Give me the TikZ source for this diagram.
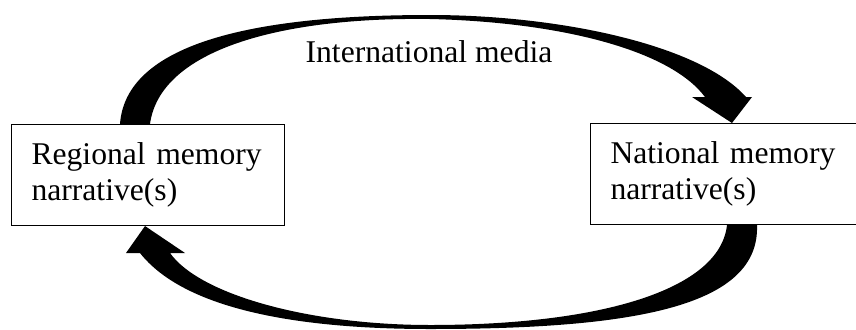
\documentclass[tikz,border=0pt]{standalone}
\usepackage{fontspec}
\setmainfont{Liberation Serif}
\usetikzlibrary{calc}
\tikzset{
  memorybox/.style={draw, line width=0.6pt, rectangle, anchor=north west,
    minimum width=5.46cm, minimum height=2.02cm, text width=4.66cm,
    inner xsep=0.4cm, align=left, font=\fontsize{18}{20.7}\selectfont},
  medialabel/.style={font=\fontsize{18}{20.7}\selectfont},
  bigarrow/.style={fill=black, draw=none}
}
\begin{document}
\begin{tikzpicture}[x=0.02cm,y=-0.02cm]
\useasboundingbox (0,0) rectangle (856,329);
% boxes
\node[memorybox] (regional) at (11,124) {Regional memory\\narrative(s)};
\node[memorybox, minimum width=5.6cm, text width=4.8cm] (national) at (590,123) {National memory\\narrative(s)};
\node[medialabel] (media) at (429,52) {International media};
% ends of the arrows
\coordinate (ta) at ($(regional.north west)+(109,0)$);
\coordinate (tb) at ($(regional.north west)+(139,0)$);
\coordinate (ttip) at ($(national.north west)+(142,0)$);
\coordinate (ba) at ($(national.south west)+(137,0)$);
\coordinate (bb) at ($(national.south west)+(167,0)$);
\coordinate (btip) at ($(regional.south west)+(134,0)$);
% top arrow
\fill[bigarrow] (ta) .. controls (125,55) and (220,15) .. (430,15)
  .. controls (560,15) and (700,45) .. (746,97)
  -- (752,97) -- (ttip) -- (692,97) -- (705,97)
  .. controls (670,50) and (560,22) .. (430,19)
  .. controls (280,17) and (160,50) .. (tb) -- cycle;
% bottom arrow
\fill[bigarrow] (bb) .. controls (760,305) and (640,329) .. (430,329)
  .. controls (300,329) and (185,310) .. (140,253)
  -- (126,253) -- (btip) -- (185,253) -- (170,253)
  .. controls (200,295) and (310,325) .. (430,325)
  .. controls (600,325) and (720,290) .. (ba) -- cycle;
\end{tikzpicture}
\end{document}
